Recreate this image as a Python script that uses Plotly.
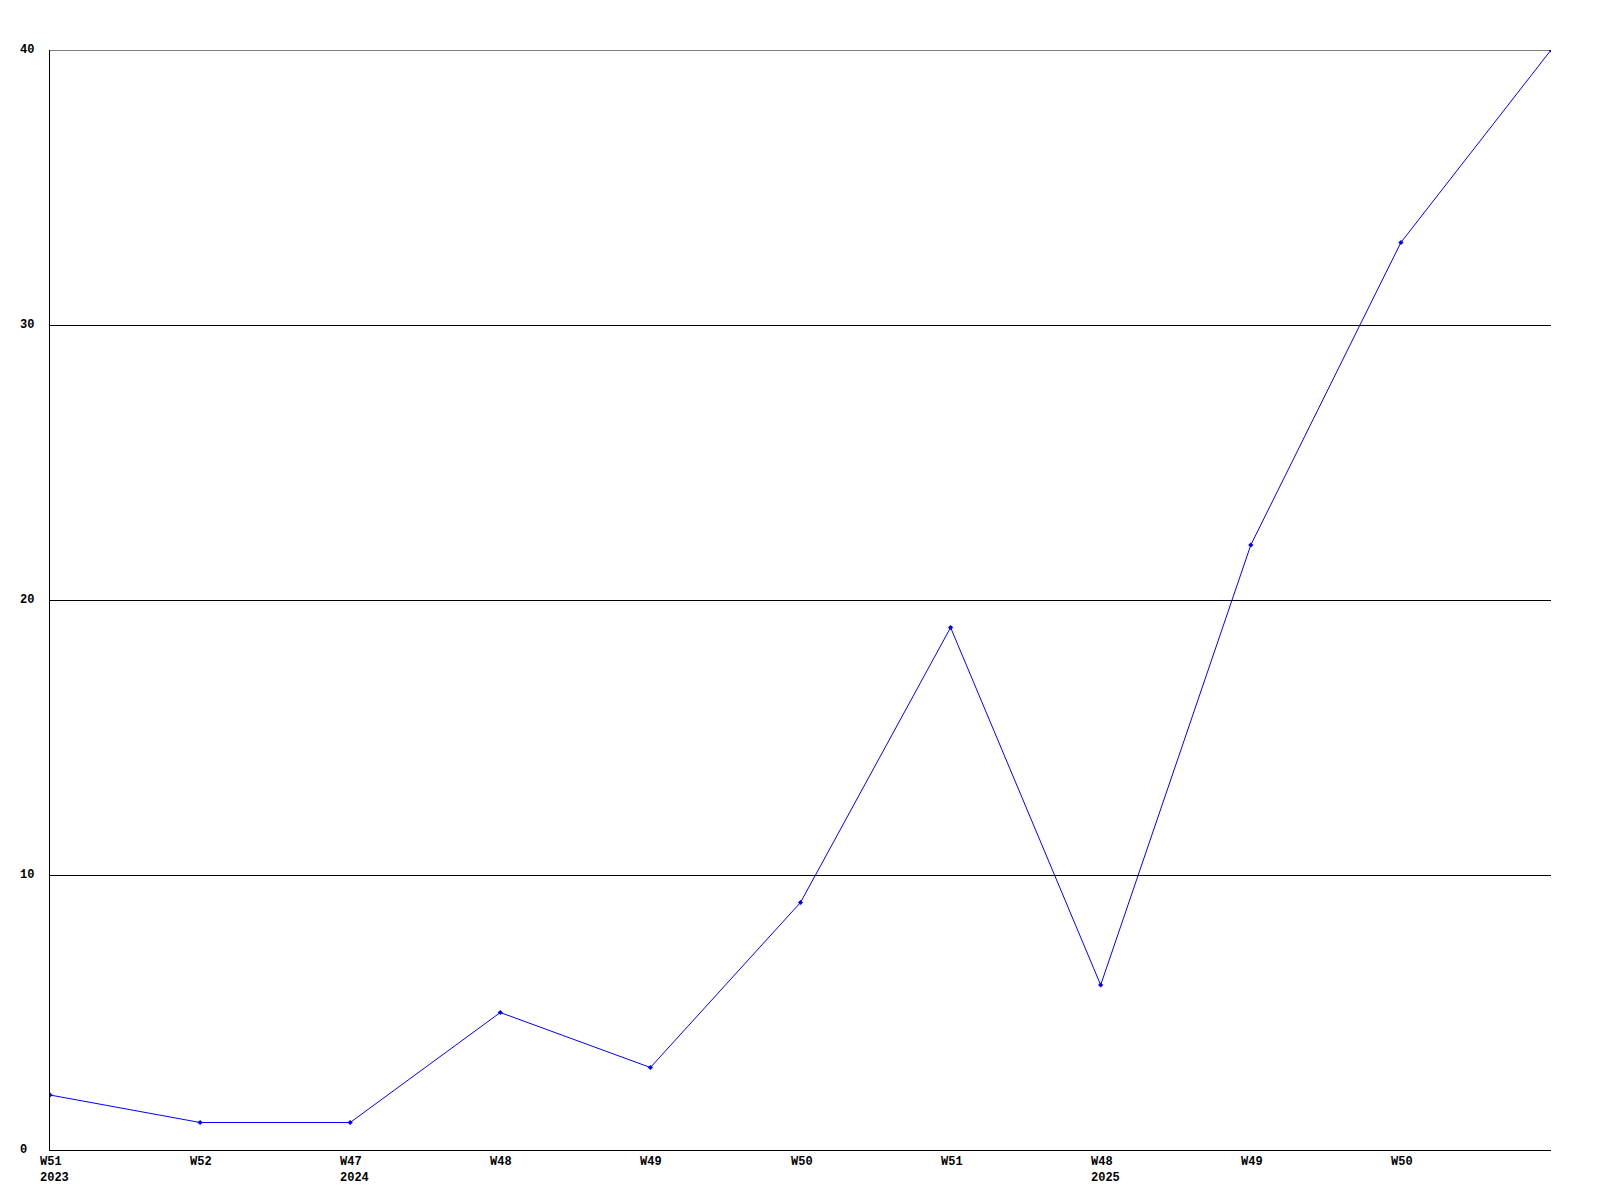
import plotly.graph_objects as go

weeks = ["W51", "W52", "W47", "W48", "W49", "W50", "W51", "W48", "W49", "W50", ""]
years = ["2023", "", "2024", "", "", "", "", "2025", "", "", ""]
counts = [2, 1, 1, 5, 3, 9, 19, 6, 22, 33, 40]
y_ticks = [0, 10, 20, 30, 40]

FONT = dict(family="Liberation Mono, DejaVu Sans Mono, monospace", size=12, color="black", weight="bold")

xs = list(range(len(counts)))

fig = go.Figure()
fig.add_trace(
    go.Scatter(
        x=xs,
        y=counts,
        mode="lines+markers",
        line=dict(color="#0000ff", width=1),
        marker=dict(symbol="diamond", size=4, color="#0000ff"),
        showlegend=False,
        hoverinfo="skip",
    )
)

annotations = []
for x, w, yr in zip(xs, weeks, years):
    if not w:
        continue
    text = w + ("<br>" + yr if yr else "")
    annotations.append(
        dict(
            x=x, y=0, xref="x", yref="paper",
            text=text, showarrow=False,
            xanchor="left", yanchor="top", align="left",
            xshift=-12, yshift=-3, font=FONT,
        )
    )
for t in y_ticks:
    annotations.append(
        dict(
            x=0, y=t, xref="paper", yref="y",
            text=str(t), showarrow=False,
            xanchor="left", yanchor="middle", align="left",
            xshift=-32, font=FONT,
        )
    )

# top gridline (plotly hides the grid line sitting on the range edge)
shapes = [
    dict(type="line", xref="paper", yref="y", x0=0, x1=1,
         y0=y_ticks[-1], y1=y_ticks[-1], line=dict(color="black", width=1), layer="below")
]

fig.update_layout(
    width=1600,
    height=1200,
    margin=dict(l=42, r=57, t=42, b=58),
    paper_bgcolor="white",
    plot_bgcolor="white",
    annotations=annotations,
    shapes=shapes,
    xaxis=dict(
        range=[0, 10], showgrid=False, zeroline=False,
        showline=True, linecolor="black", linewidth=1,
        showticklabels=False, ticks="",
    ),
    yaxis=dict(
        range=[0, 40], tickvals=y_ticks, showgrid=True, gridcolor="black", gridwidth=1,
        zeroline=False, showline=True, linecolor="black", linewidth=1,
        showticklabels=False, ticks="",
    ),
)

fig.write_html("out.html")
